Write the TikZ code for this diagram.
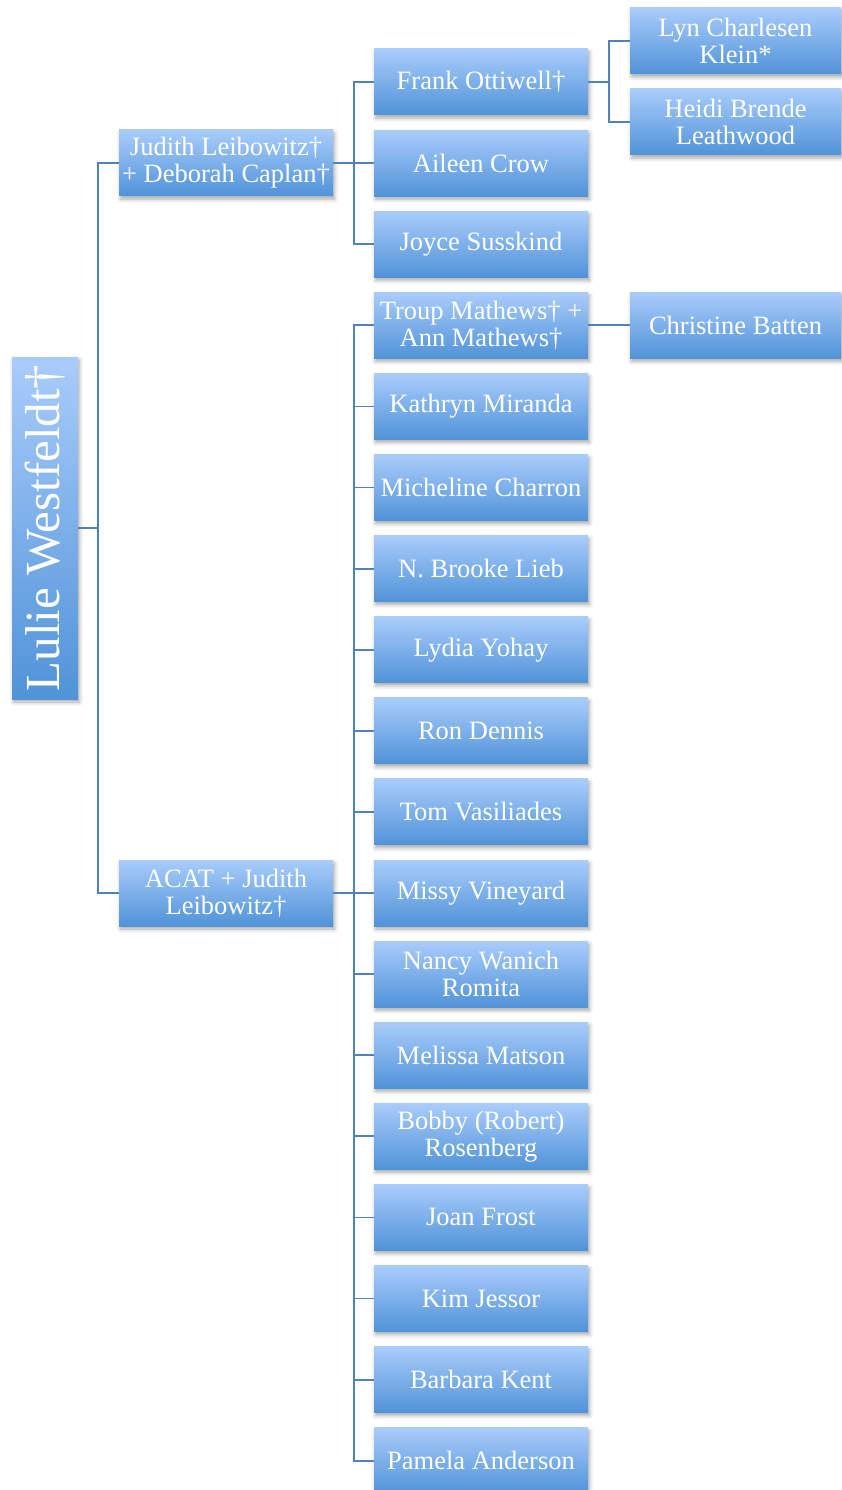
\documentclass[tikz,border=0pt]{standalone}
\usepackage{fontspec}
\setmainfont{Liberation Serif}
\usepackage{graphicx}
\usetikzlibrary{shadows.blur}
\definecolor{boxtop}{RGB}{169,204,251}
\definecolor{boxbot}{RGB}{80,147,216}
\definecolor{linkblue}{RGB}{79,129,189}

\begin{document}
\begin{tikzpicture}[x=1pt,y=-1pt,
  person/.style={draw=none, top color=boxtop, bottom color=boxbot, text=white,
    minimum width=214pt, minimum height=66pt, inner sep=0pt, align=center,
    font=\fontsize{26.5}{27}\selectfont,
    blur shadow={shadow xshift=1.5pt, shadow yshift=-3pt, shadow blur radius=4pt, shadow opacity=35}},
  link/.style={draw=linkblue, line width=1.8pt}]
\useasboundingbox (0,0) rectangle (841,1490);
% root
\node [person, minimum width=66pt, minimum height=342pt, font=\fontsize{49}{54}\selectfont] (lulie) at (45,528) {\rotatebox{90}{Lulie Westfeldt†}};
% first level
\node [person] (judith) at (226,163) {Judith Leibowitz†\\+ Deborah Caplan†};
\node [person] (acat) at (226,893) {ACAT + Judith\\Leibowitz†};
% second level
\node [person] (frank) at (481,82) {Frank Ottiwell†};
\node [person] (aileen) at (481,163.1) {Aileen Crow};
\node [person] (joyce) at (481,244.2) {Joyce Susskind};
\node [person] (troup) at (481,325.3) {Troup Mathews† +\\Ann Mathews†};
\node [person] (kathryn) at (481,406.4) {Kathryn Miranda};
\node [person] (micheline) at (481,487.5) {Micheline Charron};
\node [person] (brooke) at (481,568.6) {N. Brooke Lieb};
\node [person] (lydia) at (481,649.7) {Lydia Yohay};
\node [person] (ron) at (481,730.8) {Ron Dennis};
\node [person] (tom) at (481,811.9) {Tom Vasiliades};
\node [person] (missy) at (481,893) {Missy Vineyard};
\node [person] (nancy) at (481,974.1) {Nancy Wanich\\Romita};
\node [person] (melissa) at (481,1055.2) {Melissa Matson};
\node [person] (bobby) at (481,1136.3) {Bobby (Robert)\\Rosenberg};
\node [person] (joan) at (481,1217.4) {Joan Frost};
\node [person] (kim) at (481,1298.5) {Kim Jessor};
\node [person] (barbara) at (481,1379.6) {Barbara Kent};
\node [person] (pamela) at (481,1460.7) {Pamela Anderson};
% third level
\node [person, minimum width=211pt] (lyn) at (735.5,41) {Lyn Charlesen\\Klein*};
\node [person, minimum width=211pt] (heidi) at (735.5,122) {Heidi Brende\\Leathwood};
\node [person, minimum width=211pt] (christine) at (735.5,325.3) {Christine Batten};
% connectors
\draw [link] (lulie.east) -- ++(20,0) |- (judith.west);
\draw [link] (lulie.east) -- ++(20,0) |- (acat.west);
\draw [link] (judith.east) -- ++(21,0) |- (frank.west);
\draw [link] (judith.east) -- (aileen.west);
\draw [link] (judith.east) -- ++(21,0) |- (joyce.west);
\draw [link] (acat.east) -- ++(21,0) |- (troup.west);
\draw [link] (acat.east) -- ++(21,0) |- (kathryn.west);
\draw [link] (acat.east) -- ++(21,0) |- (micheline.west);
\draw [link] (acat.east) -- ++(21,0) |- (brooke.west);
\draw [link] (acat.east) -- ++(21,0) |- (lydia.west);
\draw [link] (acat.east) -- ++(21,0) |- (ron.west);
\draw [link] (acat.east) -- ++(21,0) |- (tom.west);
\draw [link] (acat.east) -- (missy.west);
\draw [link] (acat.east) -- ++(21,0) |- (nancy.west);
\draw [link] (acat.east) -- ++(21,0) |- (melissa.west);
\draw [link] (acat.east) -- ++(21,0) |- (bobby.west);
\draw [link] (acat.east) -- ++(21,0) |- (joan.west);
\draw [link] (acat.east) -- ++(21,0) |- (kim.west);
\draw [link] (acat.east) -- ++(21,0) |- (barbara.west);
\draw [link] (acat.east) -- ++(21,0) |- (pamela.west);
\draw [link] (frank.east) -- ++(21,0) |- (lyn.west);
\draw [link] (frank.east) -- ++(21,0) |- (heidi.west);
\draw [link] (troup.east) -- (christine.west);
\end{tikzpicture}
\end{document}
